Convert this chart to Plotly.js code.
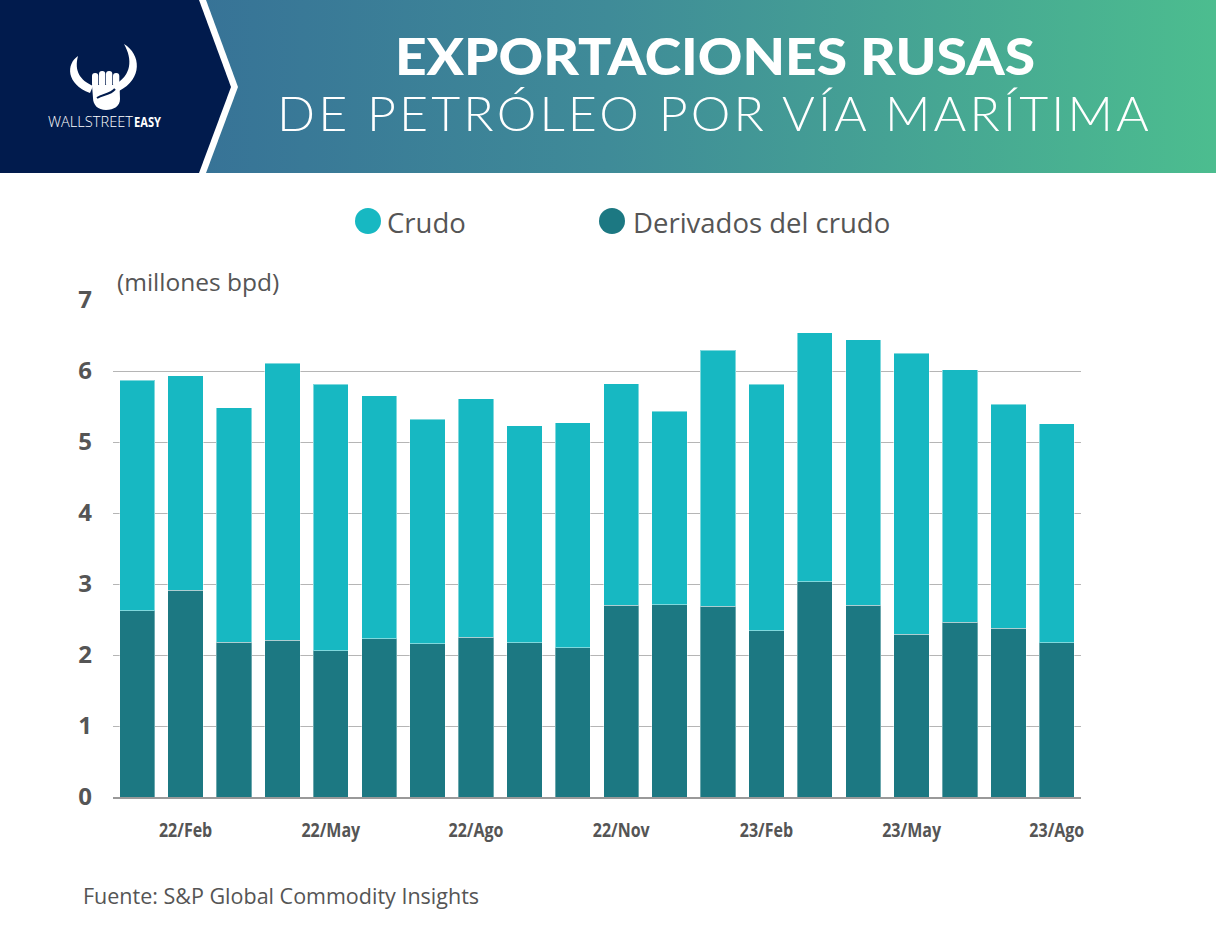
<!DOCTYPE html>
<html>
<head>
<meta charset="utf-8">
<script src="https://cdn.plot.ly/plotly-3.0.1.min.js"></script>
<style>
  html, body { margin:0; padding:0; width:1216px; height:939px; overflow:hidden; background:#fff; }
  #chart { position:absolute; left:0; top:0; width:1216px; height:939px; }
  #header { position:absolute; left:0; top:0; width:1216px; height:173px; z-index:10; }
</style>
</head>
<body>
<div id="chart"></div>
<svg id="header" width="1216" height="173" viewBox="0 0 1216 173" xmlns="http://www.w3.org/2000/svg">
  <defs>
    <linearGradient id="grad" x1="0" y1="0" x2="1" y2="0">
      <stop offset="0" stop-color="#336796"/>
      <stop offset="0.5" stop-color="#3f8b98"/>
      <stop offset="1" stop-color="#4cbd8f"/>
    </linearGradient>
  </defs>
  <rect x="0" y="0" width="1216" height="173" fill="url(#grad)"/>
  <polygon points="0,0 206,0 238,87 206,173 0,173" fill="#ffffff"/>
  <polygon points="0,0 199,0 231,87 199,173 0,173" fill="#011b4d"/>
  <!-- logo -->
  <g fill="#ffffff">
    <path d="M78,56 C66,64 66,84 90,93 L93,86 C80,80 74,71 78,56 Z"/>
    <path d="M124,44 C141,54 143,79 119,91 L116,84 C131,75 133,60 124,44 Z"/>
    <rect x="92" y="73" width="6.3" height="14" rx="3"/>
    <rect x="99" y="71" width="6.3" height="16" rx="3"/>
    <rect x="106" y="71" width="6.3" height="16" rx="3"/>
    <rect x="113" y="73" width="6.3" height="14" rx="3"/>
    <path d="M92,85 L119.5,85 L120,99 C120,106 114,110 106,110 C98,110 93,105 93,98 Z"/>
  </g>
  <path d="M97,98 C103,94 110,95 115,89" stroke="#011b4d" stroke-width="2" fill="none"/>
  <text x="48" y="127" textLength="85" lengthAdjust="spacingAndGlyphs" font-family="Open Sans, sans-serif" font-weight="300" font-size="14.5" fill="#ffffff">WALLSTREET</text>
  <text x="134" y="127" textLength="27" lengthAdjust="spacingAndGlyphs" font-family="Open Sans, sans-serif" font-weight="700" font-size="14.5" fill="#ffffff">EASY</text>
  <!-- titles -->
  <text x="395" y="75" textLength="640" lengthAdjust="spacingAndGlyphs" font-family="Lato, sans-serif" font-weight="900" font-size="51" fill="#ffffff">EXPORTACIONES RUSAS</text>
  <text x="277" y="131" textLength="875" lengthAdjust="spacingAndGlyphs" font-family="Lato, sans-serif" font-weight="300" font-size="48" letter-spacing="3" fill="#ffffff">DE PETRÓLEO POR VÍA MARÍTIMA</text>
</svg>
<script>
// ---- data ----
const meses = ['22/Ene','22/Feb','22/Mar','22/Abr','22/May','22/Jun','22/Jul','22/Ago','22/Sep','22/Oct','22/Nov','22/Dic',
               '23/Ene','23/Feb','23/Mar','23/Abr','23/May','23/Jun','23/Jul','23/Ago'];
const derivados = [2.62,2.91,2.18,2.21,2.06,2.23,2.16,2.25,2.17,2.10,2.70,2.71,2.69,2.34,3.03,2.70,2.29,2.46,2.38,2.17];
const crudo     = [3.25,3.02,3.30,3.90,3.75,3.42,3.16,3.36,3.06,3.17,3.12,2.72,3.60,3.47,3.51,3.74,3.96,3.56,3.15,3.09];
const etiquetasX = ['22/Feb','22/May','22/Ago','22/Nov','23/Feb','23/May','23/Ago'];
const ticksY = [0,1,2,3,4,5,6,7];
const nombreCrudo = 'Crudo';
const nombreDerivados = 'Derivados del crudo';
const unidad = '(millones bpd)';
const fuente = 'Fuente: S&P Global Commodity Insights';

// ---- layout helpers (pixel -> paper) ----
const W = 1216, H = 939;
const M = {l:113, r:135, t:300, b:142};
const PW = W - M.l - M.r, PH = H - M.t - M.b;
const px = x => (x - M.l) / PW;
const py = y => (H - M.b - y) / PH;

const colCrudo = '#17b8c2';
const colDeriv = '#1c7882';
const textCol = '#555555';

const traces = [
  { type:'bar', name:nombreDerivados, x:meses, y:derivados,
    marker:{color:colDeriv, line:{color:'rgba(255,255,255,0.35)', width:1}}, showlegend:false, hoverinfo:'skip' },
  { type:'bar', name:nombreCrudo, x:meses, y:crudo,
    marker:{color:colCrudo, line:{color:'rgba(255,255,255,0.45)', width:1}}, showlegend:false, hoverinfo:'skip' }
];

const annotations = [
  { xref:'paper', yref:'paper', x:px(115), y:py(281), xanchor:'left', yanchor:'middle', showarrow:false,
    text:unidad, font:{family:'Open Sans, sans-serif', size:24.5, color:textCol} },
  { xref:'paper', yref:'paper', x:px(385), y:py(222), xanchor:'left', yanchor:'middle', showarrow:false,
    text:nombreCrudo, font:{family:'Open Sans, sans-serif', size:27.5, color:textCol} },
  { xref:'paper', yref:'paper', x:px(631), y:py(222), xanchor:'left', yanchor:'middle', showarrow:false,
    text:nombreDerivados, font:{family:'Open Sans, sans-serif', size:27.5, color:textCol} },
  { xref:'paper', yref:'paper', x:px(81), y:py(895), xanchor:'left', yanchor:'middle', showarrow:false,
    text:fuente, font:{family:'Open Sans, sans-serif', size:21.5, color:textCol} }
];

const shapes = [
  { type:'circle', xref:'paper', yref:'paper', xsizemode:'pixel', ysizemode:'pixel',
    xanchor:px(368), yanchor:py(221), x0:-13, x1:13, y0:-13, y1:13,
    fillcolor:colCrudo, line:{width:0} },
  { type:'circle', xref:'paper', yref:'paper', xsizemode:'pixel', ysizemode:'pixel',
    xanchor:px(612), yanchor:py(221), x0:-13, x1:13, y0:-13, y1:13,
    fillcolor:colDeriv, line:{width:0} }
];

const layout = {
  width:W, height:H,
  margin:M,
  paper_bgcolor:'#ffffff', plot_bgcolor:'#ffffff',
  barmode:'stack', bargap:0.27,
  showlegend:false,
  xaxis:{
    type:'category', categoryorder:'array', categoryarray:meses,
    tickmode:'array', tickvals:etiquetasX, ticktext:etiquetasX,
    showgrid:false, zeroline:false,
    showline:true, linecolor:'#999999', linewidth:2,
    ticks:'', ticklabelstandoff:14,
    tickfont:{family:'"Open Sans", sans-serif', size:20, weight:700, color:textCol},
    fixedrange:true
  },
  yaxis:{
    range:[0,7], tickmode:'array', tickvals:ticksY, ticktext:ticksY.map(String),
    showgrid:true, gridcolor:'#b5b5b5', gridwidth:1,
    zeroline:false, showline:false, ticks:'', ticklabelstandoff:20,
    tickfont:{family:'"Open Sans", sans-serif', size:24, weight:700, color:textCol},
    fixedrange:true
  },
  annotations:annotations,
  shapes:shapes
};

Plotly.newPlot('chart', traces, layout, {staticPlot:true, displayModeBar:false}).then(function(gd){
  // condensed look for the month labels
  gd.querySelectorAll('.xtick text').forEach(function(t){
    const w = t.getComputedTextLength();
    t.setAttribute('textLength', (w * 0.8).toFixed(1));
    t.setAttribute('lengthAdjust', 'spacingAndGlyphs');
  });
});
</script>
</body>
</html>
